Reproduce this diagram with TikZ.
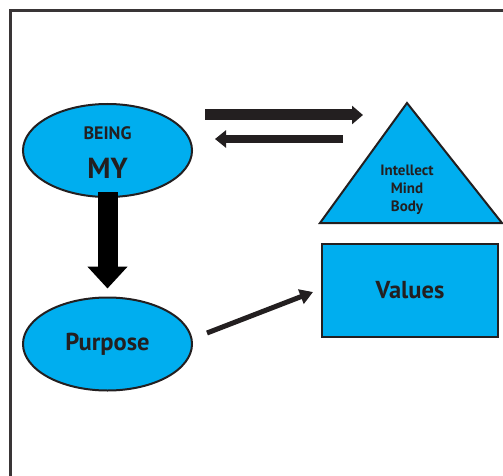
\documentclass[tikz,border=0pt]{standalone}
\usepackage{fontspec}
\setmainfont{PT Sans}
\usetikzlibrary{arrows.meta,shapes.geometric}
\definecolor{procyan}{HTML}{00AEEF}
\definecolor{ink}{HTML}{231F20}
\tikzset{
  blob/.style={ellipse, draw=ink, line width=2pt, fill=procyan, minimum width=169pt, minimum height=93pt, inner sep=0pt},
  box/.style={rectangle, draw=ink, line width=2pt, fill=procyan, minimum width=176pt, minimum height=93pt, inner sep=0pt},
  lbl/.style={inner sep=0pt, text=ink},
  big/.style={font=\bfseries\fontsize{24.5}{28}\selectfont},
}

\begin{document}
\begin{tikzpicture}[x=1pt, y=-1pt]
  \useasboundingbox (0,0) rectangle (503,476);
  \draw[ink!90, line width=3pt] (10.5,10.5) rectangle (520,500);

  \node[blob] (being) at (107.5,150.5) {};
  \node[lbl, font=\bfseries\fontsize{18}{22}\selectfont] (beinglbl) at (107.5,133) {BEING};
  \node[lbl, font=\bfseries\fontsize{29}{34}\selectfont] (mylbl) at (107.5,168) {MY};
  \node[blob, lbl, big] (purpose) at (107.5,344) {Purpose};
  \node[box, lbl, big] (values) at (410,290.5) {Values};

  \draw[draw=ink, fill=procyan, line width=2pt] (320,223) -- (407,103) -- (502,223) -- cycle;
  \node[lbl, align=center, font=\bfseries\fontsize{15}{18}\selectfont] (imb) at (407,190) {Intellect\\Mind\\Body};

  \coordinate (r0) at (205,115);
  \coordinate (r1) at (363,115);
  \coordinate (l0) at (343,139);
  \coordinate (l1) at (215,139);
  \draw[ink, line width=11pt, -{Triangle[width=18pt,length=11pt]}] (r0) -- (r1);
  \draw[ink, line width=7pt, -{Triangle[width=17pt,length=11pt]}] (l0) -- (l1);

  \draw[black, line width=20pt, -{Triangle[width=39pt,length=22pt]}] ([yshift=6pt]being.south) -- ([yshift=8pt]purpose.north);
  \draw[ink, line width=5pt, -{Triangle[width=15pt,length=13pt]}] ([shift={(14pt,11pt)}]purpose.east) -- ([shift={(-8pt,-1.5pt)}]values.west);
\end{tikzpicture}
\end{document}
